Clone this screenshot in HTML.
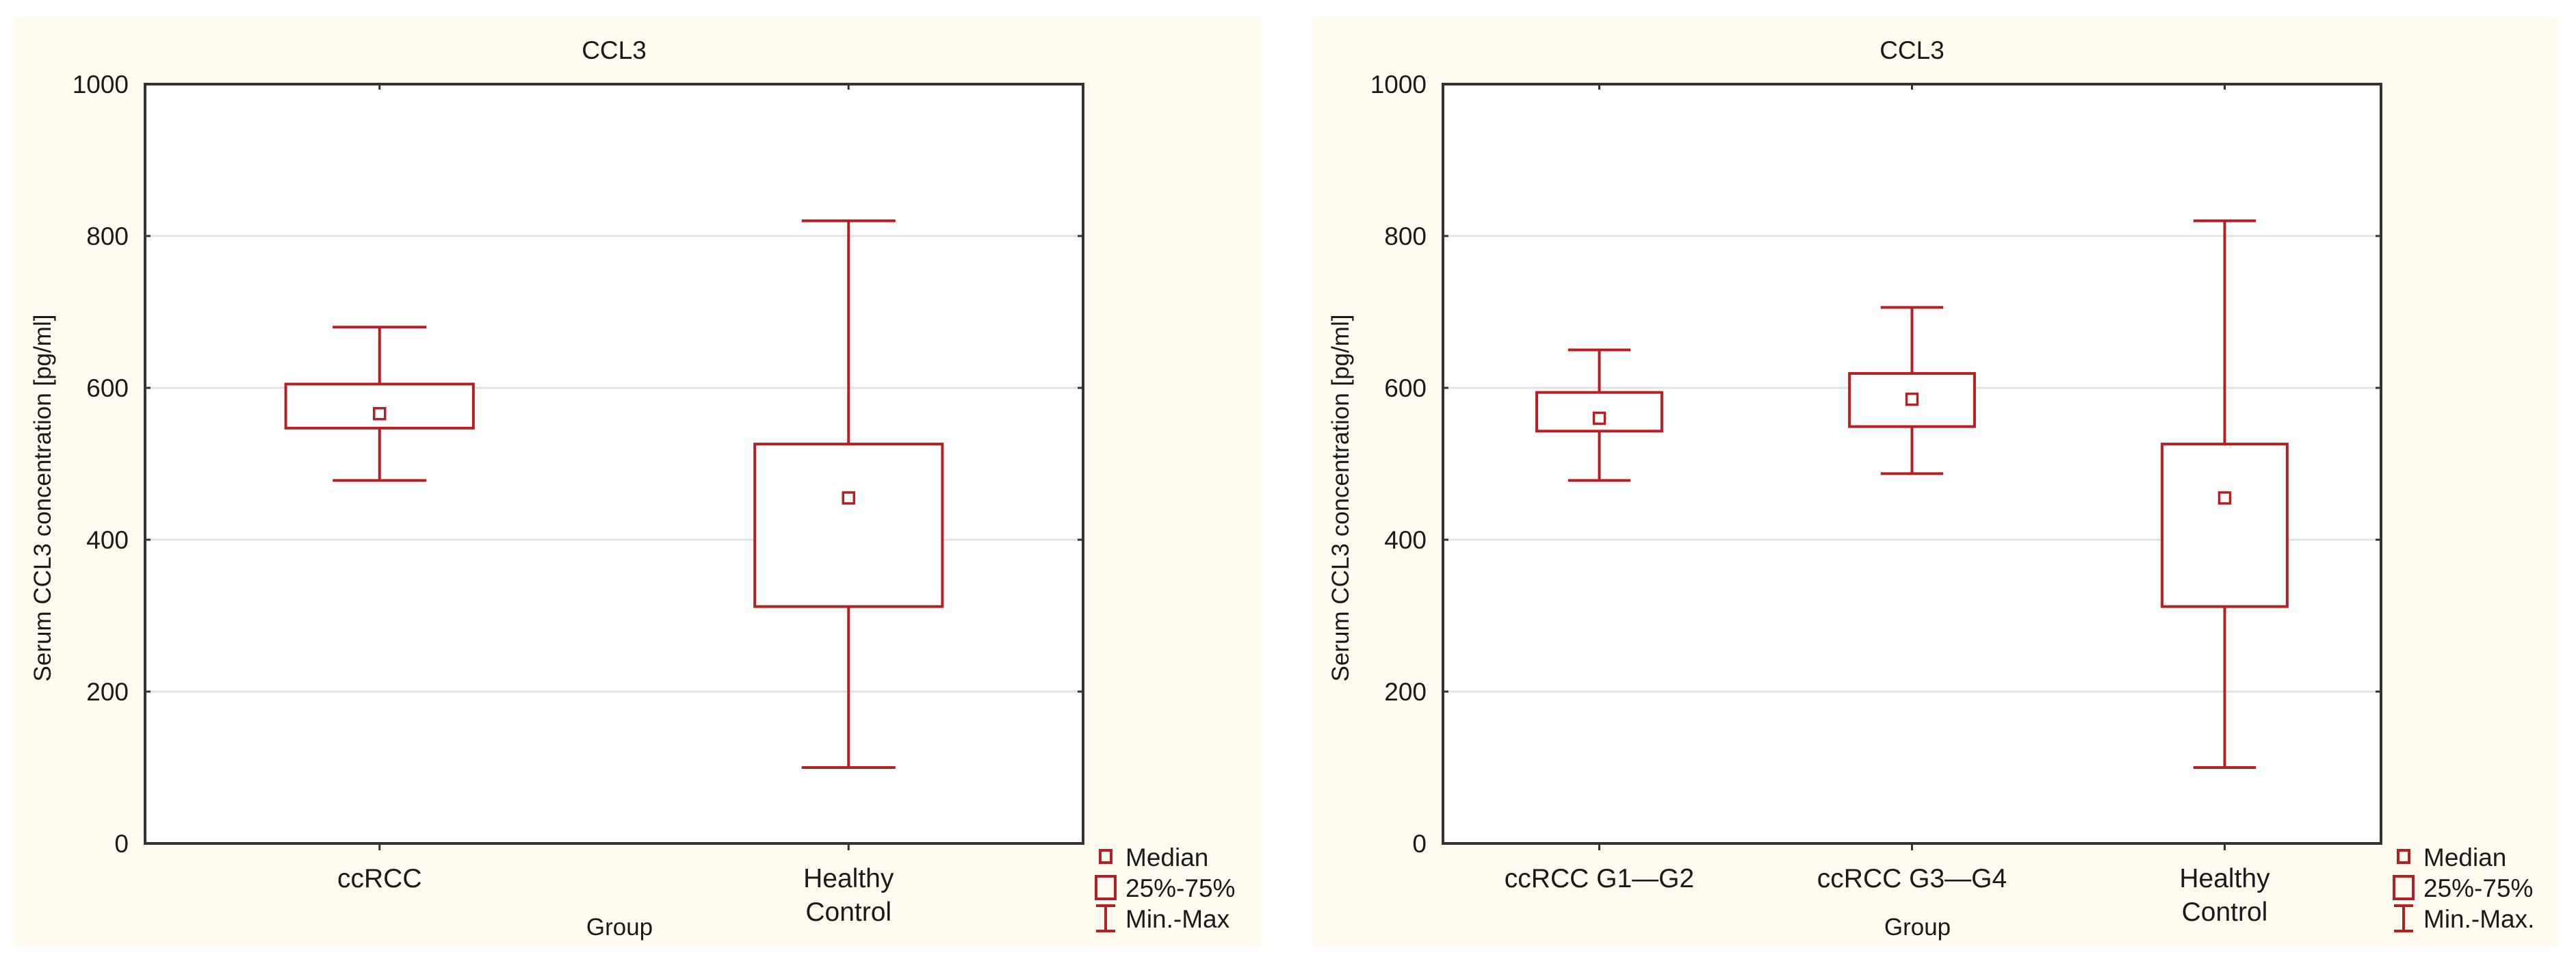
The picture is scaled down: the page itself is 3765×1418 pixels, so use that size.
<!DOCTYPE html>
<html><head><meta charset="utf-8"><style>
html,body{margin:0;padding:0;background:#fff;}
svg{display:block;}
text{font-family:"Liberation Sans",Arial,sans-serif;fill:#1a1a1a;}
</style></head><body>
<svg id="svg" width="3765" height="1418" viewBox="0 0 3765 1418" xmlns="http://www.w3.org/2000/svg"></svg>
<script>
// Panel 1 data
const cats1 = ["ccRCC", "Healthy|Control"];
const min1 = [478, 100];
const q1_1 = [547, 312];
const med1 = [566, 455];
const q3_1 = [605, 526];
const max1 = [680, 820];
// Panel 2 data
const cats2 = ["ccRCC G1\u2014G2", "ccRCC G3\u2014G4", "Healthy|Control"];
const min2 = [478, 487, 100];
const q1_2 = [543, 549, 312];
const med2 = [560, 585, 455];
const q3_2 = [594, 619, 526];
const max2 = [650, 706, 820];
const yTicks = [0, 200, 400, 600, 800, 1000];
const legendLabels1 = ["Median", "25%-75%", "Min.-Max"];
const legendLabels2 = ["Median", "25%-75%", "Min.-Max."];

const NS = "http://www.w3.org/2000/svg";
const svg = document.getElementById('svg');
const RED = "#b52025";
function mk(tag, attrs, parent) {
  const e = document.createElementNS(NS, tag);
  for (const k in attrs) e.setAttribute(k, attrs[k]);
  parent.appendChild(e);
  return e;
}

function panel(ox, cats, mins, q1s, meds, q3s, maxs, legendLabels, pname) {
  const g = mk('g', {}, svg);
  
  
  const L = ox + 212, R = ox + 1583, T = 123, B = 1233;
  const y = v => B - (v - 0) / 1000 * (B - T);
  const step = (R - L) / cats.length;
  const x = i => L + step * (i + 0.5);
  const bg = mk('rect', {x: ox + 21, y: 25, width: 1822, height: 1358, fill: '#fffbf0'}, g);
  
  
  const pa = mk('rect', {x: L, y: T, width: R - L, height: B - T, fill: '#fff'}, g);
  
  
  yTicks.forEach(t => {
    if (t > 0 && t < 1000) {
      const gl = mk('line', {x1: L, x2: R, y1: y(t), y2: y(t), stroke: '#e2e2e2', 'stroke-width': 3}, g);
      
      
    }
    mk('line', {x1: R - 8, x2: R, y1: y(t), y2: y(t), stroke: '#333', 'stroke-width': 3}, g);
    mk('line', {x1: L, x2: L + 8, y1: y(t), y2: y(t), stroke: '#333', 'stroke-width': 3}, g);
    const tl = mk('text', {x: ox + 188, y: y(t) + 13, 'font-size': 37, 'text-anchor': 'end'}, g);
    tl.textContent = t;
    
    
  });
  const bw = step * 0.4;
  cats.forEach((c, i) => {
    const cx = x(i);
    const bx = mk('g', {stroke: RED, 'stroke-width': 4, fill: 'none'}, g);
    
    
    mk('line', {x1: cx, x2: cx, y1: y(maxs[i]), y2: y(q3s[i])}, bx);
    mk('line', {x1: cx, x2: cx, y1: y(q1s[i]), y2: y(mins[i])}, bx);
    mk('line', {x1: cx - bw / 4, x2: cx + bw / 4, y1: y(maxs[i]), y2: y(maxs[i])}, bx);
    mk('line', {x1: cx - bw / 4, x2: cx + bw / 4, y1: y(mins[i]), y2: y(mins[i])}, bx);
    mk('rect', {x: cx - bw / 2, y: y(q3s[i]), width: bw, height: y(q1s[i]) - y(q3s[i]), fill: '#fff'}, bx);
    mk('rect', {x: cx - 8, y: y(meds[i]) - 8, width: 16, height: 16, fill: '#fff', 'stroke-width': 3.5}, bx);
    mk('line', {x1: cx, x2: cx, y1: B, y2: B + 10, stroke: '#333', 'stroke-width': 3}, g);
    mk('line', {x1: cx, x2: cx, y1: T, y2: T + 8, stroke: '#333', 'stroke-width': 3}, g);
    const lines = c.split('|');
    lines.forEach((ln, j) => {
      const xl = mk('text', {x: cx, y: B + 64 + j * 49, 'font-size': 39, 'text-anchor': 'middle'}, g);
      xl.textContent = ln;
      
      
    });
  });
  const fr = mk('rect', {x: L, y: T, width: R - L, height: B - T, fill: 'none', stroke: '#333', 'stroke-width': 4}, g);
  
  
  const tt = mk('text', {x: (L + R) / 2, y: 86, 'font-size': 37, 'text-anchor': 'middle'}, g);
  tt.textContent = 'CCL3';
  
  
  const xt = mk('text', {x: (L + R) / 2 + 8, y: 1367, 'font-size': 35, 'text-anchor': 'middle'}, g);
  xt.textContent = 'Group';
  
  
  const yt = mk('text', {x: 0, y: 0, 'font-size': 35, 'text-anchor': 'middle', transform: `translate(${ox + 74},${(T + B) / 2 + 50}) rotate(-90)`}, g);
  yt.textContent = 'Serum CCL3 concentration [pg/ml]';
  
  
  const lg = mk('g', {}, g);
  
  
  const lx = ox + 1616;
  mk('rect', {x: lx - 8, y: 1243, width: 16, height: 18, fill: 'none', stroke: RED, 'stroke-width': 4}, lg);
  mk('rect', {x: lx - 14, y: 1281, width: 28, height: 33, fill: 'none', stroke: RED, 'stroke-width': 4}, lg);
  mk('line', {x1: lx - 14, x2: lx + 14, y1: 1324, y2: 1324, stroke: RED, 'stroke-width': 4}, lg);
  mk('line', {x1: lx - 14, x2: lx + 14, y1: 1361, y2: 1361, stroke: RED, 'stroke-width': 4}, lg);
  mk('line', {x1: lx, x2: lx, y1: 1324, y2: 1361, stroke: RED, 'stroke-width': 4}, lg);
  legendLabels.forEach((t, j) => {
    const lt = mk('text', {x: ox + 1645, y: 1266 + j * 45, 'font-size': 37}, lg);
    lt.textContent = t;
    
    
  });
}
panel(0, cats1, min1, q1_1, med1, q3_1, max1, legendLabels1, 'left-panel');
panel(1897, cats2, min2, q1_2, med2, q3_2, max2, legendLabels2, 'right-panel');
</script>
</body></html>
